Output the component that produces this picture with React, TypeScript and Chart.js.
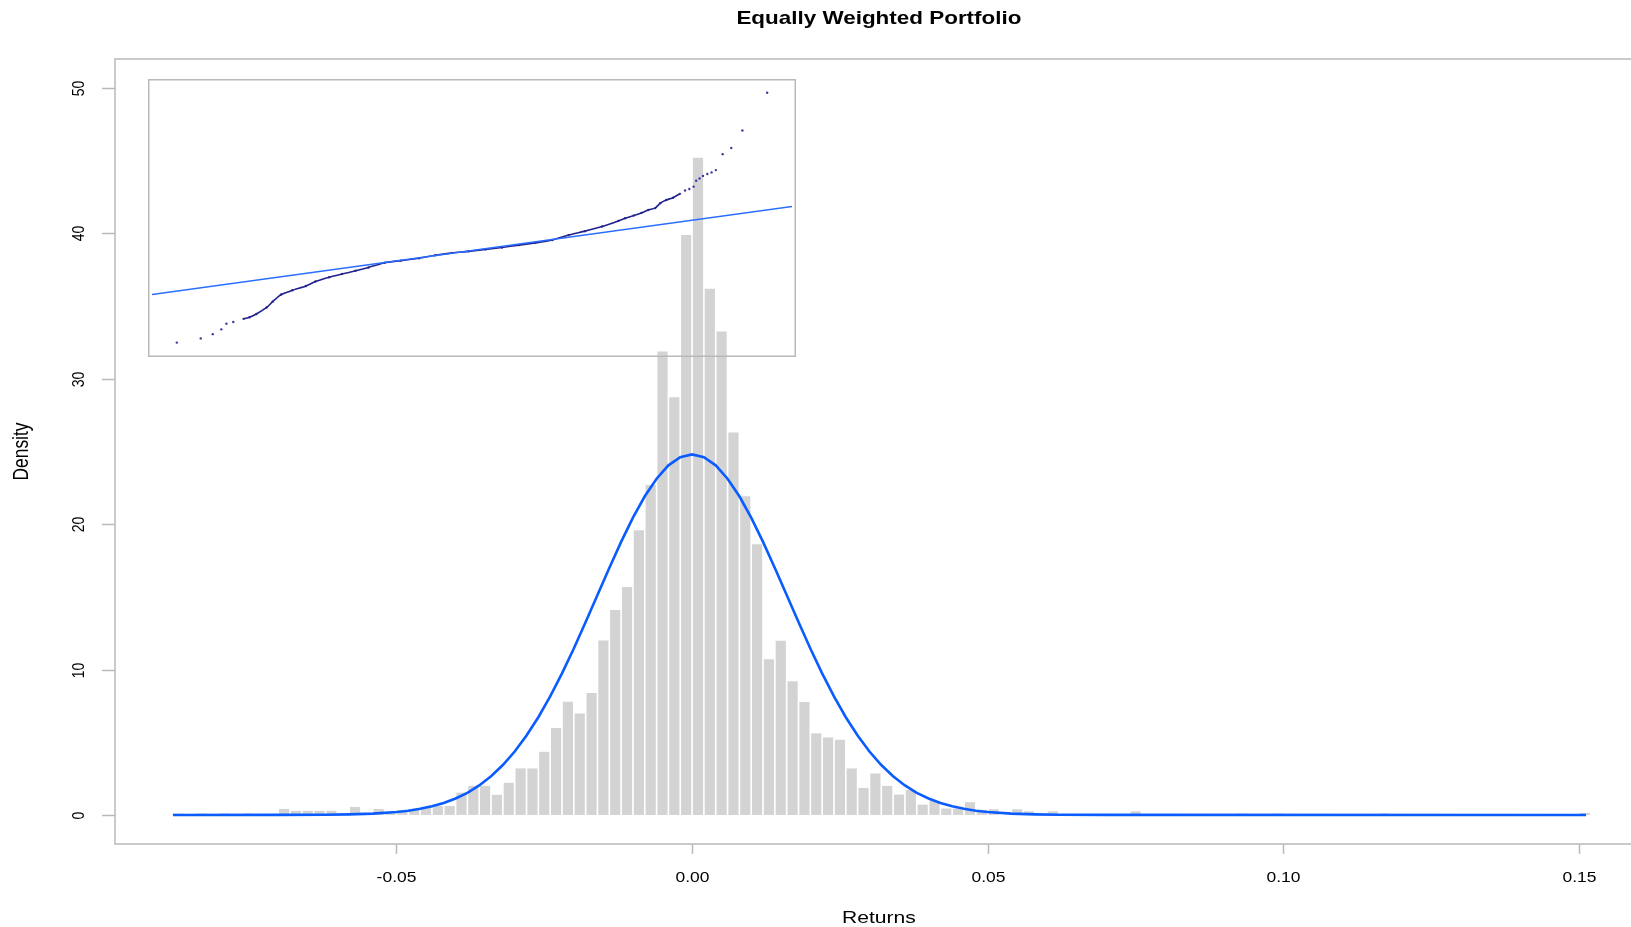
import React, { useEffect, useRef } from "react";
import { Chart, registerables } from "chart.js";

Chart.register(...registerables);

// ---------- Histogram (density) ----------
const histStart = -0.088;
const histBinWidth = 0.002;
const histDensity = [
  0.1, 0, 0.1, 0, 0.1, 0, 0.1, 0, 0, 0.41,
  0.28, 0.28, 0.28, 0.28, 0, 0.55, 0, 0.41, 0.14, 0.28,
  0.41, 0.55, 0.62, 0.62, 1.54, 2.0, 2.0, 1.38, 2.21, 3.2,
  3.2, 4.34, 5.98, 7.79, 6.97, 8.39, 12.0, 14.1, 15.68, 19.59,
  22.7, 31.88, 28.74, 39.9, 45.2, 36.19, 33.26, 26.3, 21.93, 18.62,
  10.71, 11.98, 9.2, 7.77, 5.61, 5.33, 5.17, 3.2, 1.86, 2.85,
  2.0, 1.4, 1.72, 0.71, 0.97, 0.44, 0.44, 0.87, 0.35, 0.39,
  0, 0.39, 0.25, 0, 0.25, 0, 0, 0, 0, 0,
  0, 0.25, 0, 0, 0, 0, 0, 0, 0, 0,
  0.1, 0, 0, 0.1, 0, 0, 0, 0, 0, 0,
  0, 0, 0.1, 0, 0, 0, 0, 0, 0, 0,
  0, 0, 0, 0, 0, 0, 0, 0, 0, 0.14,
];

// ---------- Normal density curve ----------
const curveX = [
  -0.0878, -0.07, -0.062, -0.058, -0.054,
  -0.05, -0.048, -0.046, -0.044, -0.042, -0.04, -0.038, -0.036, -0.034, -0.032,
  -0.03, -0.028, -0.026, -0.024, -0.022, -0.02, -0.018, -0.016, -0.014, -0.012,
  -0.01, -0.008, -0.006, -0.004, -0.002,
  0,
  0.002, 0.004, 0.006, 0.008, 0.01, 0.012, 0.014, 0.016, 0.018, 0.02,
  0.022, 0.024, 0.026, 0.028, 0.03, 0.032, 0.034, 0.036, 0.038, 0.04,
  0.042, 0.044, 0.046, 0.048, 0.05,
  0.054, 0.058, 0.062, 0.07, 0.1512,
];
const curveY = [
  0, 0.002, 0.015, 0.037, 0.089,
  0.2, 0.29, 0.42, 0.59, 0.82, 1.13, 1.52, 2.03, 2.66, 3.43,
  4.36, 5.46, 6.72, 8.15, 9.74, 11.45, 13.27, 15.13, 16.99, 18.78,
  20.45, 21.92, 23.13, 24.05, 24.61,
  24.8,
  24.61, 24.05, 23.13, 21.92, 20.45, 18.78, 16.99, 15.13, 13.27, 11.45,
  9.74, 8.15, 6.72, 5.46, 4.36, 3.43, 2.66, 2.03, 1.52, 1.13,
  0.82, 0.59, 0.42, 0.29, 0.2,
  0.089, 0.037, 0.015, 0.002, 0,
];

// ---------- Axes ----------
const xTicks = [-0.05, 0, 0.05, 0.1, 0.15];
const xTickLabels = ["-0.05", "0.00", "0.05", "0.10", "0.15"];
const yTicks = [0, 10, 20, 30, 40, 50];
const yTickLabels = ["0", "10", "20", "30", "40", "50"];
const titleText = "Equally Weighted Portfolio";
const xTitle = "Returns";
const yTitle = "Density";

// ---------- Inset QQ plot ----------
const qqTheo = [
  -3.45, -3.17, -3.03, -2.93, -2.87, -2.79, -2.67, -2.6, -2.52, -2.4,
  -2.33, -2.23, -2.1, -1.94, -1.83, -1.67, -1.52, -1.36, -1.21, -1.02,
  -0.83, -0.62, -0.43, -0.23, -0.04, 0.16, 0.35, 0.55, 0.74, 0.94,
  1.13, 1.32, 1.52, 1.71, 1.79, 1.89, 1.98, 2.06, 2.14, 2.2,
  2.27, 2.35, 2.43, 2.49, 2.54, 2.59, 2.62, 2.66, 2.7, 2.75,
  2.8, 2.85, 2.93, 3.03, 3.16, 3.45,
];
const qqSample = [
  -0.0876, -0.0836, -0.0795, -0.0749, -0.0695, -0.0679, -0.0648, -0.0633, -0.0602, -0.0539,
  -0.0483, -0.0415, -0.0374, -0.0333, -0.029, -0.0249, -0.0218, -0.0187, -0.0155, -0.0109,
  -0.0089, -0.0066, -0.0037, -0.0015, 0.0, 0.0019, 0.0037, 0.006, 0.0081, 0.0109,
  0.0156, 0.0194, 0.0238, 0.0292, 0.0318, 0.0343, 0.0369, 0.0397, 0.0415, 0.0462,
  0.0493, 0.0515, 0.0552, 0.0584, 0.0599, 0.0621, 0.0677, 0.0699, 0.0724, 0.0743,
  0.0758, 0.078, 0.0933, 0.0992, 0.116, 0.1522,
];
const qqLineX = [-3.74, 3.74];
const qqLineY = [-0.0415, 0.043];

// ---------- Styling constants ----------
const FONT = '"Liberation Sans", Arial, sans-serif';
const STRETCH = 1.22;
const BOX_COLOR = "#b9b9b9";

function drawText(
  ctx: CanvasRenderingContext2D,
  text: string,
  x: number,
  y: number,
  font: string,
  align: CanvasTextAlign,
  rotate = false
) {
  ctx.save();
  ctx.translate(x, y);
  ctx.scale(STRETCH, 1);
  if (rotate) ctx.rotate(-Math.PI / 2);
  ctx.font = font;
  ctx.fillStyle = "#000";
  ctx.textAlign = align;
  ctx.textBaseline = "alphabetic";
  ctx.fillText(text, 0, 0);
  ctx.restore();
}

const mainDecor = {
  id: "mainDecor",
  afterDraw(chart: any) {
    const { ctx, chartArea: ca, scales } = chart;
    const xs = scales.x;
    const ys = scales.y;
    ctx.save();
    ctx.strokeStyle = BOX_COLOR;
    ctx.lineWidth = 1.5;
    ctx.beginPath();
    ctx.moveTo(chart.width + 5, ca.top);
    ctx.lineTo(ca.left, ca.top);
    ctx.lineTo(ca.left, ca.bottom);
    ctx.lineTo(chart.width + 5, ca.bottom);
    ctx.stroke();
    yTicks.forEach((v, i) => {
      const py = Math.round(ys.getPixelForValue(v)) + 0.5;
      ctx.beginPath();
      ctx.moveTo(ca.left - 13, py);
      ctx.lineTo(ca.left, py);
      ctx.stroke();
      drawText(ctx, yTickLabels[i], ca.left - 31.5, py, `14px ${FONT}`, "center", true);
    });
    xTicks.forEach((v, i) => {
      const px = Math.round(xs.getPixelForValue(v)) + 0.5;
      ctx.beginPath();
      ctx.moveTo(px, ca.bottom);
      ctx.lineTo(px, ca.bottom + 10);
      ctx.stroke();
      drawText(ctx, xTickLabels[i], px, ca.bottom + 38, `14.3px ${FONT}`, "center");
    });
    const cx = xs.getPixelForValue(0.0316);
    drawText(ctx, titleText, cx, 24, `bold 18.4px ${FONT}`, "center");
    drawText(ctx, xTitle, cx, 922.5, `17.3px ${FONT}`, "center");
    drawText(ctx, yTitle, 27.7, (ca.top + ca.bottom) / 2, `17.4px ${FONT}`, "center", true);
    ctx.restore();
  },
};

const insetDecor = {
  id: "insetDecor",
  afterDraw(chart: any) {
    const { ctx } = chart;
    ctx.save();
    ctx.strokeStyle = BOX_COLOR;
    ctx.lineWidth = 1.5;
    ctx.strokeRect(0.75, 0.75, chart.width - 1.5, chart.height - 1.5);
    ctx.restore();
  },
};

export default function App() {
  const mainRef = useRef<HTMLCanvasElement | null>(null);
  const insetRef = useRef<HTMLCanvasElement | null>(null);

  useEffect(() => {
    if (!mainRef.current || !insetRef.current) return;

    const bars = histDensity.map((d, i) => ({
      x: histStart + histBinWidth * (i + 0.5),
      y: d,
    }));
    const curve = curveX.map((x, i) => ({ x, y: curveY[i] }));

    const main = new Chart(mainRef.current, {
      type: "bar",
      data: {
        datasets: [
          {
            type: "line",
            data: curve,
            borderColor: "#0a5cff",
            borderWidth: 2.6,
            pointRadius: 0,
            tension: 0,
            fill: false,
            order: 0,
          } as any,
          {
            type: "bar",
            data: bars,
            backgroundColor: "#d3d3d3",
            borderWidth: 0,
            barPercentage: 0.86,
            categoryPercentage: 1,
            order: 1,
          } as any,
        ],
      },
      options: {
        responsive: false,
        animation: false,
        layout: { padding: { left: 115, top: 59, right: 0, bottom: 83 } },
        plugins: {
          legend: { display: false },
          tooltip: { enabled: false },
          title: { display: false },
        },
        scales: {
          x: { type: "linear", min: -0.0976, max: 0.1588, display: false, offset: false },
          y: { type: "linear", min: -2, max: 52, display: false },
        },
      },
      plugins: [mainDecor],
    });

    const qqPts = qqTheo.map((x, i) => ({ x, y: qqSample[i] }));
    const qqCore = qqPts.filter((p) => p.x >= -2.7 && p.x <= 2.45);
    const qqLine = qqLineX.map((x, i) => ({ x, y: qqLineY[i] }));

    const inset = new Chart(insetRef.current, {
      type: "scatter",
      data: {
        datasets: [
          {
            type: "line",
            data: qqLine,
            borderColor: "#2a6eff",
            borderWidth: 1.4,
            pointRadius: 0,
            order: 0,
          } as any,
          {
            type: "line",
            data: qqCore,
            borderColor: "#22228e",
            borderWidth: 1.6,
            pointRadius: 0,
            tension: 0.2,
            order: 1,
          } as any,
          {
            type: "scatter",
            data: qqPts,
            backgroundColor: "#3a3aa0",
            borderWidth: 0,
            pointRadius: 1.2,
            order: 2,
          } as any,
        ],
      },
      options: {
        responsive: false,
        animation: false,
        layout: { padding: 0 },
        plugins: {
          legend: { display: false },
          tooltip: { enabled: false },
        },
        scales: {
          x: { type: "linear", min: -3.74, max: 3.74, display: false },
          y: { type: "linear", min: -0.0976, max: 0.1616, display: false },
        },
      },
      plugins: [insetDecor],
    });

    return () => {
      main.destroy();
      inset.destroy();
    };
  }, []);

  return (
    <div
      style={{
        position: "fixed",
        left: 0,
        top: 0,
        width: 1631,
        height: 927,
        background: "#fff",
      }}
    >
      <canvas
        ref={mainRef}
        width={1631}
        height={927}
        style={{ position: "absolute", left: 0, top: 0, width: 1631, height: 927 }}
      />
      <canvas
        ref={insetRef}
        width={648}
        height={278}
        style={{ position: "absolute", left: 148, top: 79, width: 648, height: 278 }}
      />
    </div>
  );
}
